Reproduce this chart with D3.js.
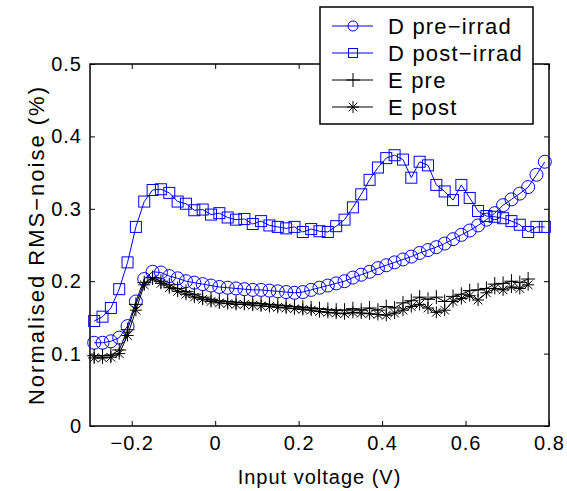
<!DOCTYPE html>
<html lang="en">
<head>
<meta charset="UTF-8">
<title>RMS noise vs input voltage</title>
<script src="https://d3js.org/d3.v7.min.js"></script>
<style>
  body { margin: 0; background: #fff; }
  text { font-family: "Liberation Sans", Arial, sans-serif; }
</style>
</head>
<body>
<div id="chart"></div>
<script>
// x grid (V) shared by all series
const volts = [-0.29, -0.27, -0.25, -0.23, -0.21, -0.19, -0.17, -0.15, -0.13, -0.11,
  -0.09, -0.07, -0.05, -0.03, -0.01, 0.01, 0.03, 0.05, 0.07, 0.09,
  0.11, 0.13, 0.15, 0.17, 0.19, 0.21, 0.23, 0.25, 0.27, 0.29,
  0.31, 0.33, 0.35, 0.37, 0.39, 0.41, 0.43, 0.45, 0.47, 0.49,
  0.51, 0.53, 0.55, 0.57, 0.59, 0.61, 0.63, 0.65, 0.67, 0.69,
  0.71, 0.73, 0.75, 0.77, 0.79];

const dPre = [0.115, 0.115, 0.117, 0.122, 0.138, 0.172, 0.203, 0.213, 0.212, 0.207,
  0.204, 0.200, 0.198, 0.196, 0.194, 0.192, 0.191, 0.190, 0.189, 0.188,
  0.188, 0.187, 0.186, 0.185, 0.184, 0.185, 0.188, 0.191, 0.194, 0.197,
  0.200, 0.205, 0.209, 0.213, 0.218, 0.222, 0.226, 0.230, 0.234, 0.239,
  0.243, 0.247, 0.252, 0.258, 0.264, 0.270, 0.277, 0.285, 0.294, 0.305,
  0.313, 0.321, 0.330, 0.347, 0.365];

const dPost = [0.145, 0.151, 0.163, 0.189, 0.226, 0.275, 0.310, 0.326, 0.327, 0.322,
  0.310, 0.307, 0.298, 0.299, 0.292, 0.294, 0.288, 0.285, 0.286, 0.279,
  0.283, 0.277, 0.275, 0.273, 0.275, 0.268, 0.272, 0.269, 0.268, 0.276,
  0.285, 0.302, 0.320, 0.340, 0.357, 0.370, 0.374, 0.368, 0.343, 0.365,
  0.360, 0.333, 0.324, 0.312, 0.333, 0.315, 0.297, 0.290, 0.289, 0.287,
  0.283, 0.278, 0.268, 0.275, 0.275];

const ePre = [0.097, 0.097, 0.098, 0.105, 0.133, 0.168, 0.198, 0.205, 0.200, 0.195,
  0.190, 0.186, 0.182, 0.178, 0.175, 0.173, 0.172, 0.171, 0.170, 0.170,
  0.169, 0.168, 0.167, 0.166, 0.165, 0.164, 0.163, 0.162, 0.161, 0.160,
  0.160, 0.162, 0.160, 0.163, 0.160, 0.165, 0.163, 0.170, 0.173, 0.178,
  0.175, 0.178, 0.172, 0.179, 0.182, 0.187, 0.188, 0.190, 0.196, 0.197,
  0.200, 0.198, 0.203];

const ePost = [0.094, 0.094, 0.095, 0.100, 0.125, 0.160, 0.195, 0.203, 0.197, 0.191,
  0.186, 0.182, 0.178, 0.175, 0.172, 0.170, 0.169, 0.168, 0.168, 0.167,
  0.166, 0.165, 0.164, 0.163, 0.162, 0.161, 0.160, 0.158, 0.157, 0.156,
  0.155, 0.157, 0.156, 0.155, 0.154, 0.153, 0.156, 0.160, 0.165, 0.168,
  0.163, 0.157, 0.160, 0.172, 0.176, 0.180, 0.174, 0.184, 0.190, 0.188,
  0.192, 0.190, 0.195];

const xTicks = [-0.2, 0, 0.2, 0.4, 0.6, 0.8];
const yTicks = [0, 0.1, 0.2, 0.3, 0.4, 0.5];
const legendNames = ["D pre\u2212irrad", "D post\u2212irrad", "E pre", "E post"];

const W = 567, H = 491;
const m = { left: 90, right: 18, top: 64, bottom: 65 };
const FS = "20px", LS = "1px";

const svg = d3.select("#chart").append("svg").attr("width", W).attr("height", H);

const x = d3.scaleLinear().domain([-0.3, 0.8]).range([m.left, W - m.right]);
const y = d3.scaleLinear().domain([0, 0.5]).range([H - m.bottom, m.top]);

const fmt = d => d === 0 ? "0" : d3.format(".1f")(d).replace("-", "\u2212");

// axes with inward ticks on all four sides (matlab box style)
const tickLen = 5;
const gx = svg.append("g").attr("transform", `translate(0,${y(0)})`)
  .call(d3.axisBottom(x).tickValues(xTicks).tickSizeInner(-tickLen).tickSizeOuter(0).tickPadding(10).tickFormat(fmt));
const gxt = svg.append("g").attr("transform", `translate(0,${y(0.5)})`)
  .call(d3.axisTop(x).tickValues(xTicks).tickSizeInner(-tickLen).tickSizeOuter(0).tickFormat(""));
const gy = svg.append("g").attr("transform", `translate(${x(-0.3)},0)`)
  .call(d3.axisLeft(y).tickValues(yTicks).tickSizeInner(-tickLen).tickSizeOuter(0).tickPadding(8).tickFormat(fmt));
const gyr = svg.append("g").attr("transform", `translate(${x(0.8)},0)`)
  .call(d3.axisRight(y).tickValues(yTicks).tickSizeInner(-tickLen).tickSizeOuter(0).tickFormat(""));

[gx, gxt, gy, gyr].forEach(g => {
  g.select(".domain").remove();
  g.selectAll("line").attr("stroke", "#000").attr("stroke-width", 1);
  g.selectAll("text").attr("fill", "#000").style("font-size", FS).style("letter-spacing", LS)
    .style("font-family", "'Liberation Sans', Arial, sans-serif");
});

svg.append("rect")
  .attr("x", x(-0.3)).attr("y", y(0.5))
  .attr("width", x(0.8) - x(-0.3)).attr("height", y(0) - y(0.5))
  .attr("fill", "none").attr("stroke", "#000").attr("stroke-width", 1.5);

// marker shapes
function drawMarker(g, kind, color, cx, cy, s) {
  if (kind === "circle") {
    g.append("circle").attr("cx", cx).attr("cy", cy).attr("r", s)
      .attr("fill", "none").attr("stroke", color).attr("stroke-width", 1);
  } else if (kind === "square") {
    g.append("rect").attr("x", cx - s).attr("y", cy - s).attr("width", 2 * s).attr("height", 2 * s)
      .attr("fill", "none").attr("stroke", color).attr("stroke-width", 1);
  } else if (kind === "plus") {
    g.append("path").attr("d", `M${cx - s},${cy}H${cx + s}M${cx},${cy - s}V${cy + s}`)
      .attr("stroke", color).attr("stroke-width", 1).attr("fill", "none");
  } else if (kind === "star") {
    const d = s * 0.72;
    g.append("path")
      .attr("d", `M${cx - s},${cy}H${cx + s}M${cx},${cy - s}V${cy + s}M${cx - d},${cy - d}L${cx + d},${cy + d}M${cx - d},${cy + d}L${cx + d},${cy - d}`)
      .attr("stroke", color).attr("stroke-width", 1).attr("fill", "none");
  }
}

const series = [
  { vals: dPre, color: "#0000ff", kind: "circle", size: 6.5, legSize: 5 },
  { vals: dPost, color: "#0000ff", kind: "square", size: 5.5, legSize: 4.5 },
  { vals: ePre, color: "#000", kind: "plus", size: 7, legSize: 7 },
  { vals: ePost, color: "#000", kind: "star", size: 6, legSize: 6 }
];

const line = d3.line().x(d => x(d[0])).y(d => y(d[1]));

series.forEach(s => {
  const pts = s.vals.map((v, i) => [volts[i], v]);
  const g = svg.append("g");
  g.append("path").datum(pts).attr("d", line)
    .attr("fill", "none").attr("stroke", s.color).attr("stroke-width", 1);
  pts.forEach(p => drawMarker(g, s.kind, s.color, x(p[0]), y(p[1]), s.size));
});

// legend
const leg = svg.append("g");
leg.append("rect").attr("x", 320).attr("y", 7).attr("width", 213).attr("height", 117)
  .attr("fill", "#fff").attr("stroke", "#000").attr("stroke-width", 1.5);
series.forEach((s, i) => {
  const ly = 26 + i * 27;
  leg.append("line").attr("x1", 332).attr("x2", 373).attr("y1", ly).attr("y2", ly)
    .attr("stroke", s.color).attr("stroke-width", 1);
  drawMarker(leg, s.kind, s.color, 353, ly, s.legSize);
  leg.append("text").attr("x", 388).attr("y", ly + 8).text(legendNames[i])
    .style("font-size", "22px").style("letter-spacing", "1.2px").attr("fill", "#000");
});

// axis titles
svg.append("text").attr("x", (x(-0.3) + x(0.8)) / 2).attr("y", 484)
  .attr("text-anchor", "middle").style("font-size", FS).style("letter-spacing", LS).text("Input voltage (V)");
svg.append("text")
  .attr("transform", `translate(44,${(y(0) + y(0.5)) / 2}) rotate(-90)`)
  .attr("text-anchor", "middle").style("font-size", "22px").style("letter-spacing", "2px").text("Normalised RMS\u2212noise (%)");
</script>
</body>
</html>
